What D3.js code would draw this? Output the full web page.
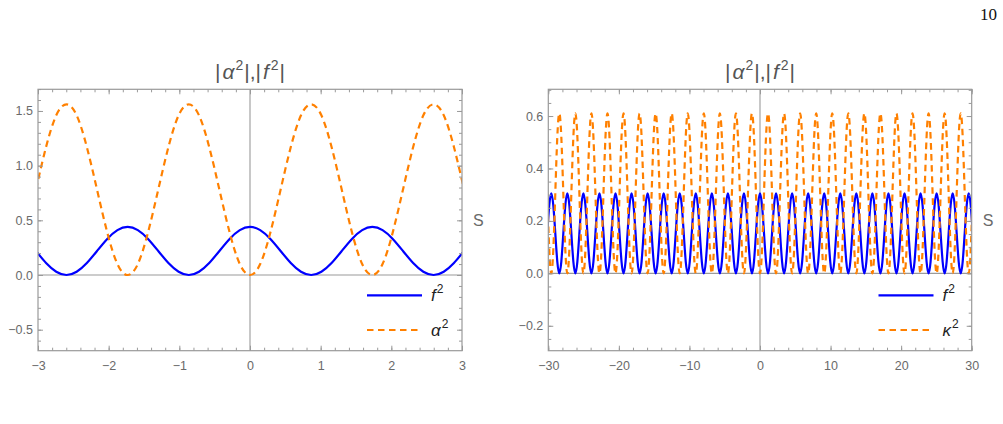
<!DOCTYPE html>
<html><head><meta charset="utf-8">
<script src="https://cdn.jsdelivr.net/npm/d3@7"></script>
<style>
body{margin:0;background:#fff}
svg{display:block}
</style>
</head><body>
<svg id="c" width="1003" height="424"></svg>
<script>
// ---------------- DATA ----------------
// Left panel: samples every leftStep in s, index k = -21..21
const leftStep = 0.1443;
const leftK = d3.range(-21, 22);
const leftF2 = [0.22,0.11,0.03,0,
  0.03,0.11,0.22,0.33,0.41,0.44,0.41,0.33,0.22,0.11,0.03,0,
  0.03,0.11,0.22,0.33,0.41,0.44,0.41,0.33,0.22,0.11,0.03,0,
  0.03,0.11,0.22,0.33,0.41,0.44,0.41,0.33,0.22,0.11,0.03,0,
  0.03,0.11,0.22];
const leftAlpha2 = [0.78,1.17,1.46,1.56,
  1.46,1.17,0.78,0.39,0.10,0,0.10,0.39,0.78,1.17,1.46,1.56,
  1.46,1.17,0.78,0.39,0.10,0,0.10,0.39,0.78,1.17,1.46,1.56,
  1.46,1.17,0.78,0.39,0.10,0,0.10,0.39,0.78,1.17,1.46,1.56,
  1.46,1.17,0.78];
// Right panel: samples every rightStep in s, index k = -106..106
const rightStep = 0.2844;
const rightK = d3.range(-106, 107);
const rightF2 = [0.153,0.26,
  0.305,0.26,0.153,0.045,0,0.045,0.153,0.26,
  0.305,0.26,0.153,0.045,0,0.045,0.153,0.26,
  0.305,0.26,0.153,0.045,0,0.045,0.153,0.26,
  0.305,0.26,0.153,0.045,0,0.045,0.153,0.26,
  0.305,0.26,0.153,0.045,0,0.045,0.153,0.26,
  0.305,0.26,0.153,0.045,0,0.045,0.153,0.26,
  0.305,0.26,0.153,0.045,0,0.045,0.153,0.26,
  0.305,0.26,0.153,0.045,0,0.045,0.153,0.26,
  0.305,0.26,0.153,0.045,0,0.045,0.153,0.26,
  0.305,0.26,0.153,0.045,0,0.045,0.153,0.26,
  0.305,0.26,0.153,0.045,0,0.045,0.153,0.26,
  0.305,0.26,0.153,0.045,0,0.045,0.153,0.26,
  0.305,0.26,0.153,0.045,0,0.045,0.153,0.26,
  0.305,0.26,0.153,0.045,0,0.045,0.153,0.26,
  0.305,0.26,0.153,0.045,0,0.045,0.153,0.26,
  0.305,0.26,0.153,0.045,0,0.045,0.153,0.26,
  0.305,0.26,0.153,0.045,0,0.045,0.153,0.26,
  0.305,0.26,0.153,0.045,0,0.045,0.153,0.26,
  0.305,0.26,0.153,0.045,0,0.045,0.153,0.26,
  0.305,0.26,0.153,0.045,0,0.045,0.153,0.26,
  0.305,0.26,0.153,0.045,0,0.045,0.153,0.26,
  0.305,0.26,0.153,0.045,0,0.045,0.153,0.26,
  0.305,0.26,0.153,0.045,0,0.045,0.153,0.26,
  0.305,0.26,0.153,0.045,0,0.045,0.153,0.26,
  0.305,0.26,0.153,0.045,0,0.045,0.153,0.26,
  0.305,0.26,0.153,0.045,0,0.045,0.153,0.26,
  0.305,0.26,0.153];
const rightKappa2 = [0.305,0.089,
  0,0.089,0.305,0.52,0.61,0.52,0.305,0.089,
  0,0.089,0.305,0.52,0.61,0.52,0.305,0.089,
  0,0.089,0.305,0.52,0.61,0.52,0.305,0.089,
  0,0.089,0.305,0.52,0.61,0.52,0.305,0.089,
  0,0.089,0.305,0.52,0.61,0.52,0.305,0.089,
  0,0.089,0.305,0.52,0.61,0.52,0.305,0.089,
  0,0.089,0.305,0.52,0.61,0.52,0.305,0.089,
  0,0.089,0.305,0.52,0.61,0.52,0.305,0.089,
  0,0.089,0.305,0.52,0.61,0.52,0.305,0.089,
  0,0.089,0.305,0.52,0.61,0.52,0.305,0.089,
  0,0.089,0.305,0.52,0.61,0.52,0.305,0.089,
  0,0.089,0.305,0.52,0.61,0.52,0.305,0.089,
  0,0.089,0.305,0.52,0.61,0.52,0.305,0.089,
  0,0.089,0.305,0.52,0.61,0.52,0.305,0.089,
  0,0.089,0.305,0.52,0.61,0.52,0.305,0.089,
  0,0.089,0.305,0.52,0.61,0.52,0.305,0.089,
  0,0.089,0.305,0.52,0.61,0.52,0.305,0.089,
  0,0.089,0.305,0.52,0.61,0.52,0.305,0.089,
  0,0.089,0.305,0.52,0.61,0.52,0.305,0.089,
  0,0.089,0.305,0.52,0.61,0.52,0.305,0.089,
  0,0.089,0.305,0.52,0.61,0.52,0.305,0.089,
  0,0.089,0.305,0.52,0.61,0.52,0.305,0.089,
  0,0.089,0.305,0.52,0.61,0.52,0.305,0.089,
  0,0.089,0.305,0.52,0.61,0.52,0.305,0.089,
  0,0.089,0.305,0.52,0.61,0.52,0.305,0.089,
  0,0.089,0.305,0.52,0.61,0.52,0.305,0.089,
  0,0.089,0.305];

const leftXTicks = [-3,-2,-1,0,1,2,3];
const leftYTicks = [-0.5,0,0.5,1,1.5];
const rightXTicks = [-30,-20,-10,0,10,20,30];
const rightYTicks = [-0.2,0,0.2,0.4,0.6];
const leftXMinor = d3.range(-3, 3.001, 0.2);
const leftYMinor = d3.range(-0.6, 1.701, 0.1);
const rightXMinor = d3.range(-30, 30.001, 2);
const rightYMinor = d3.range(-0.25, 0.701, 0.05);
const titleMain = ["|", "α", "2", "|,|", "f", "2", "|"];
const legendLeft = ["f", "α"];
const legendRight = ["f", "κ"];
const pageNumber = "10";

// ---------------- DRAWING ----------------
const SANS = '"Liberation Sans",Arial,sans-serif';
const SERIF = '"Liberation Serif","DejaVu Serif",serif';
const svg = d3.select("#c").style("font-family", SANS);
const BLUE = "#0000ff", ORANGE = "#ff8000", GRAY = "#9a9a9a", LABEL = "#6a6a6a";

function panel(opt) {
  const {x0, x1, y0, y1, xDom, yDom, xs, series, xTicks, yTicks, xMinor, yMinor, xFmt, yFmt, legend, id} = opt;
  const x = d3.scaleLinear().domain(xDom).range([x0, x1]);
  const y = d3.scaleLinear().domain(yDom).range([y1, y0]);
  const g = svg.append("g");

  g.append("clipPath").attr("id", id).append("rect")
    .attr("x", x0).attr("y", y0).attr("width", x1 - x0).attr("height", y1 - y0);

  // zero axes
  g.append("line").attr("x1", x(0)).attr("x2", x(0)).attr("y1", y0).attr("y2", y1)
    .attr("stroke", GRAY).attr("stroke-width", 1.1);
  g.append("line").attr("x1", x0).attr("x2", x1).attr("y1", y(0)).attr("y2", y(0))
    .attr("stroke", GRAY).attr("stroke-width", 1.1);

  // curves
  const line = d3.line().x(d => x(d[0])).y(d => y(d[1])).curve(d3.curveNatural);
  series.forEach(s => {
    g.append("path").attr("clip-path", `url(#${id})`)
      .attr("d", line(xs.map((v, i) => [v, s.values[i]])))
      .attr("fill", "none").attr("stroke", s.color).attr("stroke-width", 2.2)
      .attr("stroke-dasharray", s.dash || null);
  });

  // axes with inward ticks
  function styleAxis(sel) {
    sel.select(".domain").remove();
    sel.selectAll(".tick line").attr("stroke", GRAY);
    sel.selectAll(".tick text").attr("fill", LABEL).style("font-size", "12.5px")
      .style("font-family", SANS);
  }
  const mk = [
    [d3.axisBottom(x).tickValues(xTicks).tickSize(-5).tickSizeOuter(0).tickPadding(10).tickFormat(xFmt), `translate(0,${y1})`],
    [d3.axisBottom(x).tickValues(xMinor).tickSize(-3).tickSizeOuter(0).tickFormat(""), `translate(0,${y1})`],
    [d3.axisTop(x).tickValues(xTicks).tickSize(-5).tickSizeOuter(0).tickFormat(""), `translate(0,${y0})`],
    [d3.axisTop(x).tickValues(xMinor).tickSize(-3).tickSizeOuter(0).tickFormat(""), `translate(0,${y0})`],
    [d3.axisLeft(y).tickValues(yTicks).tickSize(-5).tickSizeOuter(0).tickPadding(5).tickFormat(yFmt), `translate(${x0},0)`],
    [d3.axisLeft(y).tickValues(yMinor).tickSize(-3).tickSizeOuter(0).tickFormat(""), `translate(${x0},0)`],
    [d3.axisRight(y).tickValues(yTicks).tickSize(-5).tickSizeOuter(0).tickFormat(""), `translate(${x1},0)`],
    [d3.axisRight(y).tickValues(yMinor).tickSize(-3).tickSizeOuter(0).tickFormat(""), `translate(${x1},0)`]
  ];
  mk.forEach(([ax, tr]) => g.append("g").attr("transform", tr).call(ax).call(styleAxis));

  // frame
  g.append("rect").attr("x", x0).attr("y", y0).attr("width", x1 - x0).attr("height", y1 - y0)
    .attr("fill", "none").attr("stroke", GRAY).attr("stroke-width", 1.2);

  // title
  const cx = x(0);
  const t = g.append("text").attr("x", cx).attr("y", 78.5).attr("text-anchor", "middle")
    .attr("fill", "#555").style("font-size", "21px");
  t.append("tspan").text(titleMain[0]);
  t.append("tspan").attr("font-style", "italic").attr("dx", 2).text(titleMain[1]);
  t.append("tspan").style("font-size", "14px").attr("dy", -9).attr("dx", 1).text(titleMain[2]);
  t.append("tspan").attr("dy", 9).attr("dx", 1).text(titleMain[3]);
  t.append("tspan").attr("font-style", "italic").attr("dx", 2).text(titleMain[4]);
  t.append("tspan").style("font-size", "14px").attr("dy", -9).attr("dx", 2).text(titleMain[5]);
  t.append("tspan").attr("dy", 9).attr("dx", 1).text(titleMain[6]);

  // S label
  g.append("text").attr("x", x1 + 11).attr("y", (y0 + y1) / 2 + 6)
    .attr("fill", LABEL).style("font-size", "16px").text("S");

  // legend
  const lx0 = legend.x, lx1 = legend.x + 55;
  [[295.3, BLUE, null, legend.labels[0]], [330, ORANGE, "6.5,4.5", legend.labels[1]]].forEach(([ly, col, dash, lab]) => {
    g.append("line").attr("x1", lx0).attr("x2", lx1).attr("y1", ly).attr("y2", ly)
      .attr("stroke", col).attr("stroke-width", 2.2).attr("stroke-dasharray", dash);
    const tt = g.append("text").attr("x", lx1 + 9).attr("y", ly + 6).attr("fill", "#222").style("font-size", "17px");
    tt.append("tspan").attr("font-style", "italic").text(lab);
    tt.append("tspan").style("font-size", "12px").attr("dy", -8).attr("dx", 1).text("2");
  });
}

const fmt0 = d3.format("d"), fmt1 = d3.format(".1f");

panel({
  id: "clipL", x0: 38, x1: 462, y0: 89.3, y1: 350.7,
  xDom: [-3, 3], yDom: [-0.692, 1.698],
  xs: leftK.map(k => k * leftStep),
  series: [{values: leftF2, color: BLUE}, {values: leftAlpha2, color: ORANGE, dash: "6.5,4.5"}],
  xTicks: leftXTicks, yTicks: leftYTicks, xMinor: leftXMinor, yMinor: leftYMinor,
  xFmt: fmt0, yFmt: fmt1,
  legend: {x: 367, labels: legendLeft}
});

panel({
  id: "clipR", x0: 548.3, x1: 971.7, y0: 89.3, y1: 350.7,
  xDom: [-30, 30], yDom: [-0.295, 0.702],
  xs: rightK.map(k => k * rightStep),
  series: [{values: rightF2, color: BLUE}, {values: rightKappa2, color: ORANGE, dash: "6.5,4.5"}],
  xTicks: rightXTicks, yTicks: rightYTicks, xMinor: rightXMinor, yMinor: rightYMinor,
  xFmt: fmt0, yFmt: fmt1,
  legend: {x: 878.5, labels: legendRight}
});

// page number
svg.append("text").attr("x", 997).attr("y", 20).attr("text-anchor", "end")
  .style("font-family", SERIF).style("font-size", "17px")
  .attr("fill", "#111").text(pageNumber);
</script>
</body></html>
